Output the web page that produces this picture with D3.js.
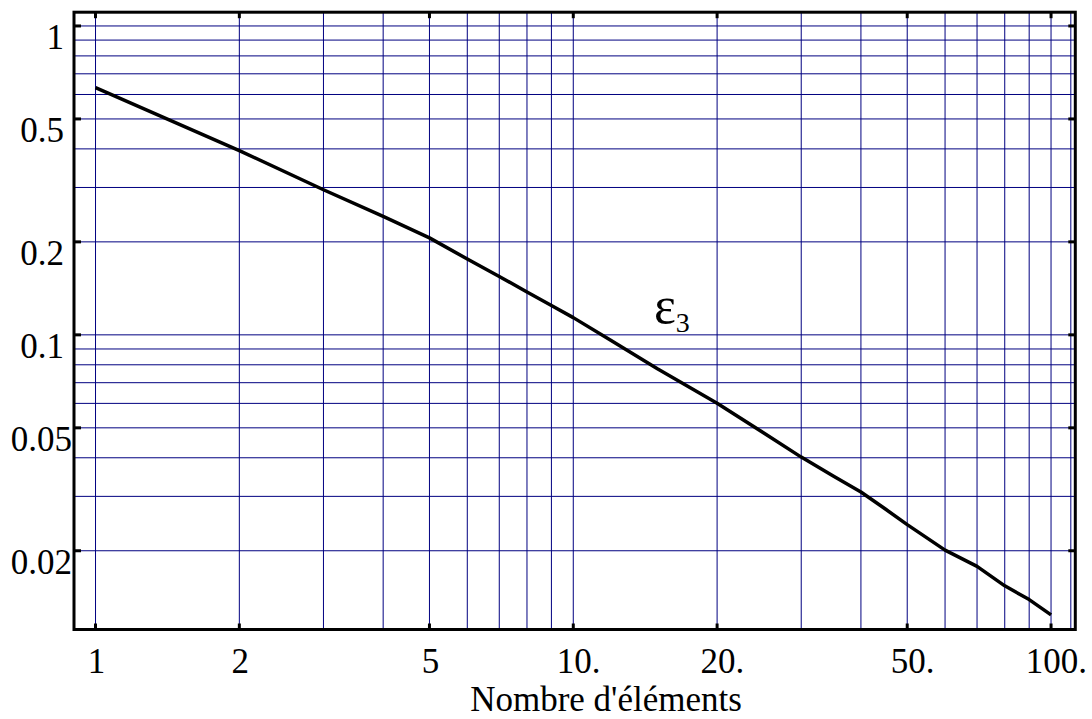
<!DOCTYPE html>
<html>
<head>
<meta charset="utf-8">
<script src="https://cdn.jsdelivr.net/npm/d3@7"></script>
<style>
  body { margin: 0; background: #fff; }
  svg { display: block; font-family: 'Liberation Serif', 'Times New Roman', serif; }
</style>
</head>
<body>
<svg id="chart" width="1092" height="719"></svg>
<script>
// epsilon_3 versus number of elements
var nValues   = [1, 2, 3, 4, 5, 6, 7, 8, 9, 10, 12, 15, 17, 20, 25, 30, 35, 40, 45, 50, 60, 70, 80, 90, 100];
var epsValues = [0.631, 0.395, 0.295, 0.242, 0.206, 0.176, 0.1545, 0.1377, 0.1245, 0.1137, 0.0959, 0.0777,
                 0.0695, 0.0601, 0.0482, 0.0402, 0.0349, 0.0310, 0.0273, 0.0243, 0.0201, 0.0178, 0.0154,
                 0.0139, 0.0124];

var xTickValues = [1, 2, 5, 10, 20, 50, 100],
    xTickLabels = ['1', '2', '5', '10.', '20.', '50.', '100.'],
    yTickValues = [1, 0.5, 0.2, 0.1, 0.05, 0.02],
    yTickLabels = ['1', '0.5', '0.2', '0.1', '0.05', '0.02'];

var xGridValues = [1, 2, 3, 4, 5, 6, 7, 8, 9, 10, 20, 30, 40, 50, 60, 70, 80, 90, 100, 110],
    yGridValues = [0.02, 0.03, 0.04, 0.05, 0.06, 0.07, 0.08, 0.09, 0.1, 0.2, 0.3, 0.4, 0.5, 0.6, 0.7, 0.8, 0.9, 1];

var xDomain = [0.9015, 112.4],
    yDomain = [1.108, 0.01112];

var seriesLabel = '\u03b5',
    seriesSub = '3',
    xTitle = "Nombre d'\u00e9l\u00e9ments";

var svg, x, y, plot,
    fontSize = 35;

function createChart() {
  svg = d3.select('#chart');
  plot = { left: 74, right: 1075.3, top: 12.2, bottom: 629.5 };

  x = d3.scaleLog().domain(xDomain).range([plot.left, plot.right]);
  y = d3.scaleLog().domain(yDomain).range([plot.top, plot.bottom]);

  // grid
  var grid = svg.append('g').attr('class', 'grid')
                .attr('stroke', '#000080').attr('stroke-width', 1);
  grid.selectAll('.vg').data(xGridValues).enter()
      .append('line').attr('class', 'vg')
      .attr('x1', function(d) { return x(d); }).attr('x2', function(d) { return x(d); })
      .attr('y1', plot.top).attr('y2', plot.bottom);
  grid.selectAll('.hg').data(yGridValues).enter()
      .append('line').attr('class', 'hg')
      .attr('x1', plot.left).attr('x2', plot.right)
      .attr('y1', function(d) { return y(d); }).attr('y2', function(d) { return y(d); });

  // curve
  var pts = nValues.map(function(n, i) { return [n, epsValues[i]]; });
  svg.append('path')
     .datum(pts)
     .attr('fill', 'none')
     .attr('stroke', '#000')
     .attr('stroke-width', 3.5)
     .attr('stroke-linejoin', 'round')
     .attr('d', d3.line().x(function(d) { return x(d[0]); }).y(function(d) { return y(d[1]); }));

  // frame
  svg.append('rect')
     .attr('x', plot.left).attr('y', plot.top)
     .attr('width', plot.right - plot.left).attr('height', plot.bottom - plot.top)
     .attr('fill', 'none').attr('stroke', '#000').attr('stroke-width', 3);

  // small inward ticks on the four sides
  var ticks = svg.append('g').attr('stroke', '#000').attr('stroke-width', 3);
  xTickValues.forEach(function(v) {
    ticks.append('line').attr('x1', x(v)).attr('x2', x(v)).attr('y1', plot.bottom).attr('y2', plot.bottom - 6);
    ticks.append('line').attr('x1', x(v)).attr('x2', x(v)).attr('y1', plot.top).attr('y2', plot.top + 6);
  });
  yTickValues.forEach(function(v) {
    ticks.append('line').attr('x1', plot.left).attr('x2', plot.left + 7).attr('y1', y(v)).attr('y2', y(v));
    ticks.append('line').attr('x1', plot.right).attr('x2', plot.right - 7).attr('y1', y(v)).attr('y2', y(v));
  });

  // x tick labels: number centred on the tick, trailing '.' hangs to the right
  xTickValues.forEach(function(v, i) {
    var t = svg.append('text')
               .attr('font-size', fontSize)
               .attr('y', 673)
               .text(xTickLabels[i].replace('.', ''));
    var w = t.node().getComputedTextLength();
    t.attr('x', x(v) - w / 2 + 1).text(xTickLabels[i]);
  });

  // y tick labels: top of the digits on the tick
  yTickValues.forEach(function(v, i) {
    var lab = yTickLabels[i];
    svg.append('text')
       .attr('font-size', fontSize)
       .attr('text-anchor', 'end')
       .attr('x', lab.length < 4 ? 64 : 72)
       .attr('y', y(v) + 23)
       .text(lab);
  });

  // axis title
  svg.append('text')
     .attr('font-size', fontSize)
     .attr('text-anchor', 'middle')
     .attr('x', 606)
     .attr('y', 711)
     .text(xTitle);

  // series label
  var lbl = svg.append('text').attr('x', 654).attr('y', 323);
  lbl.append('tspan').attr('font-size', 52).text(seriesLabel);
  lbl.append('tspan').attr('font-size', 28).attr('dy', 9).text(seriesSub);
}

createChart();
</script>
</body>
</html>
